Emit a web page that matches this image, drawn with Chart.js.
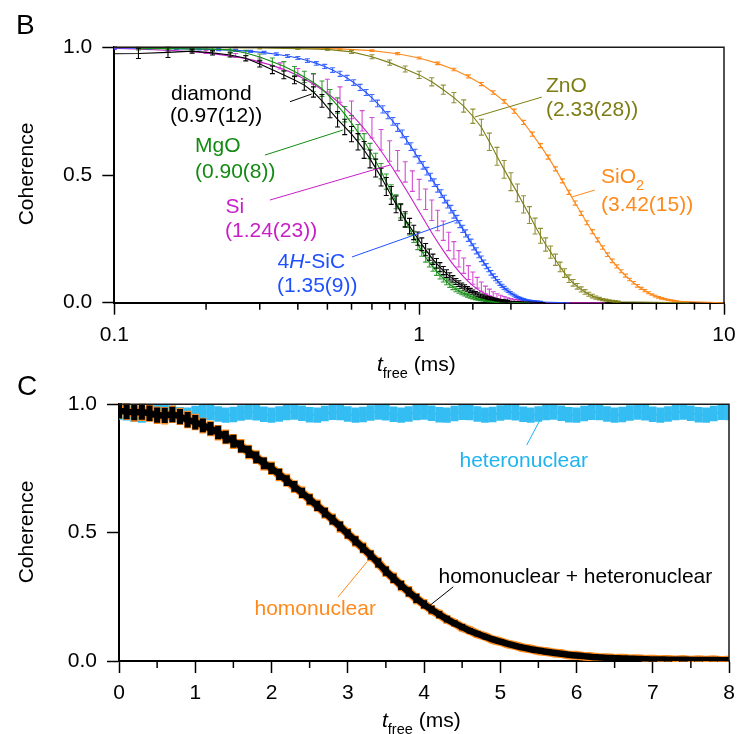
<!DOCTYPE html>
<html>
<head>
<meta charset="utf-8">
<script src="https://cdn.jsdelivr.net/npm/chart.js@4.4.1/dist/chart.umd.min.js"></script>
<style>
html,body{margin:0;padding:0;background:#fff;}
#wrap{position:relative;width:737px;height:734px;overflow:hidden;font-family:"Liberation Sans",Arial,Helvetica,sans-serif;color:#000;}
canvas{position:absolute;left:0;}
.lbl{position:absolute;white-space:nowrap;line-height:1;}
.lbl sub{font-size:14.5px;line-height:1;vertical-align:-7px;}
.ytitle{position:absolute;white-space:nowrap;line-height:1;font-size:21px;transform:translate(-50%,-50%) rotate(-90deg);}
</style>
</head>
<body>
<div id="wrap">
  <canvas id="chartB" width="737" height="360" style="top:0px"></canvas>
  <canvas id="chartC" width="737" height="374" style="top:360px"></canvas>
</div>
<script>
// ---------------- Panel B data: rows of [t_free (ms), coherence, error] ----------------
const diamond = [
 [0.10,0.975,0],[0.12,0.976,0.02],[0.15,0.980,0.02],[0.18,0.985,0.008],[0.21,0.978,0.008],[0.24,0.970,0.008],
 [0.27,0.957,0.01],[0.30,0.935,0.012],[0.33,0.912,0.015],[0.36,0.892,0.015],[0.39,0.872,0.015],
 [0.42,0.852,0.02],[0.45,0.825,0.02],[0.48,0.790,0.025],[0.51,0.752,0.028],[0.54,0.718,0.03],
 [0.57,0.688,0.03],[0.60,0.660,0.03],[0.63,0.630,0.032],[0.66,0.598,0.033],[0.69,0.563,0.035],
 [0.72,0.527,0.035],[0.75,0.492,0.035],[0.78,0.455,0.035],[0.81,0.420,0.035],[0.84,0.385,0.033],
 [0.87,0.355,0.032],[0.90,0.326,0.03],[0.93,0.300,0.03],[0.96,0.275,0.028],[0.99,0.251,0.026],
 [1.02,0.229,0.025],[1.05,0.208,0.024],[1.08,0.188,0.022],[1.11,0.170,0.02],[1.14,0.154,0.019],
 [1.17,0.139,0.018],[1.20,0.126,0.016],[1.23,0.114,0.015],[1.26,0.103,0.014],[1.29,0.093,0.013],
 [1.32,0.083,0.012],[1.35,0.075,0.011],[1.38,0.067,0.01],[1.41,0.060,0.01],[1.44,0.054,0.009],
 [1.47,0.048,0.008],[1.50,0.042,0.008],[1.53,0.037,0.007],[1.56,0.032,0.007],[1.59,0.028,0.006],
 [1.62,0.025,0.006],[1.65,0.022,0.005],[1.68,0.019,0.005],[1.71,0.017,0.005],[1.74,0.015,0.004],
 [1.77,0.013,0.004],[1.80,0.011,0.004],[1.83,0.010,0.003],[1.86,0.009,0.003],[1.89,0.008,0.003],
 [1.92,0.007,0.003],[1.95,0.006,0.003],[2.60,0.000,0]
];
const mgo = [
 [0.12,0.995,0.005],[0.15,0.995,0.005],[0.18,0.994,0.005],[0.21,0.993,0.006],[0.24,0.990,0.008],
 [0.27,0.978,0.01],[0.30,0.962,0.012],[0.33,0.943,0.015],[0.36,0.926,0.018],[0.39,0.905,0.02],
 [0.42,0.884,0.022],[0.45,0.862,0.035],[0.48,0.838,0.03],[0.51,0.805,0.03],[0.54,0.772,0.03],
 [0.57,0.738,0.03],[0.60,0.703,0.03],[0.63,0.668,0.03],[0.66,0.632,0.03],[0.69,0.594,0.03],
 [0.72,0.555,0.03],[0.75,0.515,0.03],[0.78,0.474,0.03],[0.81,0.434,0.028],[0.84,0.395,0.027],
 [0.87,0.358,0.026],[0.90,0.323,0.025],[0.93,0.289,0.024],[0.96,0.258,0.022],[0.99,0.229,0.021],
 [1.02,0.202,0.02],[1.05,0.178,0.019],[1.08,0.158,0.018],[1.11,0.140,0.017],[1.14,0.123,0.016],
 [1.17,0.108,0.015],[1.20,0.095,0.014],[1.23,0.083,0.013],[1.26,0.072,0.012],[1.29,0.062,0.011],
 [1.32,0.053,0.01],[1.35,0.046,0.009],[1.38,0.039,0.008],[1.41,0.034,0.008],[1.44,0.029,0.007],
 [1.47,0.025,0.007],[1.50,0.021,0.006],[1.53,0.018,0.006],[1.56,0.015,0.005],[1.59,0.013,0.005],
 [1.62,0.011,0.004],[1.65,0.009,0.004],[1.68,0.008,0.004],[1.71,0.007,0.003],[1.74,0.006,0.003],
 [1.77,0.005,0.003],[1.80,0.004,0.003],[2.30,0.000,0]
];
const si = [
 [0.10,0.996,0.004],[0.15,0.990,0.005],[0.20,0.982,0.006],[0.25,0.968,0.008],[0.30,0.948,0.01],
 [0.35,0.927,0.012],[0.40,0.902,0.015],[0.45,0.876,0.02],[0.50,0.850,0.025],[0.55,0.815,0.03],
 [0.60,0.755,0.035],[0.65,0.712,0.04],[0.70,0.685,0.04],[0.75,0.638,0.04],[0.80,0.594,0.04],
 [0.85,0.556,0.04],[0.90,0.512,0.04],[0.95,0.476,0.04],[1.00,0.443,0.04],[1.05,0.405,0.04],
 [1.10,0.362,0.04],[1.15,0.322,0.04],[1.20,0.282,0.038],[1.25,0.240,0.036],[1.30,0.205,0.034],
 [1.35,0.172,0.032],[1.40,0.145,0.03],[1.45,0.118,0.027],[1.50,0.096,0.024],[1.55,0.078,0.021],
 [1.60,0.063,0.018],[1.65,0.050,0.015],[1.70,0.040,0.013],[1.75,0.032,0.011],[1.80,0.025,0.01],
 [1.85,0.020,0.009],[1.90,0.016,0.008],[1.95,0.012,0.007],[2.00,0.010,0.006],[2.05,0.008,0.005],
 [2.10,0.007,0.005],[2.15,0.006,0.004],[2.20,0.005,0.004],[2.30,0.004,0.003],[2.40,0.003,0.003],
 [2.50,0.002,0.002]
];
// fitted curve for Si: [t_free, coherence]
const siFit = [
 [0.10,0.996],[0.20,0.978],[0.30,0.943],[0.40,0.890],[0.50,0.820],[0.60,0.736],[0.70,0.643],
 [0.80,0.545],[0.90,0.448],[1.00,0.357],[1.10,0.274],[1.20,0.204],[1.30,0.146],[1.40,0.101],
 [1.50,0.067],[1.60,0.043],[1.80,0.015],[2.00,0.005],[2.50,0.0005],[3.00,0.0],[4.07,0.0]
];
const sic = [
 [0.10,0.997,0.003],[0.13,0.996,0.003],[0.16,0.995,0.003],[0.19,0.993,0.003],[0.22,0.991,0.004],
 [0.25,0.988,0.004],[0.28,0.984,0.004],[0.31,0.979,0.005],[0.34,0.973,0.005],[0.37,0.966,0.006],
 [0.40,0.958,0.006],[0.43,0.948,0.007],[0.46,0.937,0.007],[0.49,0.925,0.008],[0.52,0.911,0.009],
 [0.55,0.896,0.01],[0.58,0.880,0.01],[0.61,0.862,0.011],[0.64,0.843,0.012],[0.67,0.823,0.012],
 [0.70,0.802,0.013],[0.73,0.780,0.013],[0.76,0.757,0.014],[0.79,0.734,0.014],[0.82,0.710,0.015],
 [0.85,0.686,0.015],[0.88,0.661,0.015],[0.91,0.636,0.015],[0.94,0.611,0.015],[0.97,0.586,0.015],
 [1.00,0.561,0.015],[1.03,0.538,0.015],[1.06,0.515,0.015],[1.09,0.492,0.015],[1.12,0.470,0.015],
 [1.15,0.448,0.015],[1.18,0.427,0.015],[1.21,0.406,0.015],[1.24,0.386,0.015],[1.27,0.366,0.015],
 [1.30,0.346,0.015],[1.33,0.327,0.015],[1.36,0.308,0.014],[1.39,0.289,0.014],[1.42,0.271,0.014],
 [1.45,0.253,0.013],[1.48,0.236,0.013],[1.51,0.219,0.012],[1.54,0.203,0.012],[1.57,0.187,0.011],
 [1.60,0.172,0.011],[1.63,0.157,0.01],[1.66,0.143,0.01],[1.69,0.130,0.009],[1.72,0.117,0.009],
 [1.75,0.105,0.008],[1.78,0.094,0.008],[1.81,0.084,0.007],[1.84,0.075,0.007],[1.87,0.066,0.006],
 [1.90,0.058,0.006],[1.93,0.051,0.005],[1.96,0.045,0.005],[1.99,0.039,0.005],[2.02,0.034,0.004],
 [2.05,0.029,0.004],[2.08,0.025,0.004],[2.11,0.021,0.003],[2.14,0.018,0.003],[2.17,0.015,0.003],
 [2.20,0.013,0.003],[2.23,0.011,0.002],[2.26,0.009,0.002],[2.29,0.008,0.002],[2.32,0.007,0.002],
 [2.35,0.006,0.002],[2.38,0.005,0.002],[2.41,0.004,0.002],[2.44,0.004,0.002],[2.47,0.003,0.002],
 [2.50,0.003,0.002],[3.10,0.000,0]
];
const zno = [
 [0.1,0.999,0.002],[0.2,0.998,0.002],[0.3,0.997,0.003],[0.4,0.995,0.003],[0.5,0.992,0.004],
 [0.6,0.982,0.006],[0.7,0.963,0.008],[0.8,0.940,0.01],[0.9,0.915,0.012],[1.0,0.892,0.014],
 [1.1,0.865,0.016],[1.2,0.834,0.018],[1.3,0.803,0.02],[1.4,0.770,0.024],[1.5,0.730,0.028],
 [1.6,0.687,0.031],[1.7,0.630,0.034],[1.8,0.573,0.035],[1.9,0.522,0.035],[2.0,0.474,0.035],
 [2.1,0.430,0.035],[2.2,0.385,0.034],[2.3,0.343,0.033],[2.4,0.300,0.031],[2.5,0.262,0.029],
 [2.6,0.228,0.026],[2.7,0.198,0.024],[2.8,0.168,0.022],[2.9,0.140,0.019],[3.0,0.116,0.017],
 [3.1,0.094,0.015],[3.2,0.078,0.013],[3.3,0.064,0.011],[3.4,0.052,0.01],[3.5,0.042,0.009],
 [3.6,0.033,0.008],[3.7,0.026,0.007],[3.8,0.020,0.006],[3.9,0.016,0.005],[4.0,0.012,0.004],
 [4.1,0.010,0.004],[4.2,0.008,0.003],[4.3,0.006,0.003],[4.4,0.005,0.003],[4.5,0.004,0.002],
 [7.7,0.000,0]
];
const sio2 = [
 [0.10,1.000,0.002],[0.25,0.999,0.002],[0.40,0.998,0.002],[0.55,0.994,0.003],[0.70,0.987,0.003],
 [0.85,0.975,0.004],[1.00,0.958,0.004],[1.15,0.937,0.005],[1.30,0.913,0.005],[1.45,0.886,0.006],
 [1.60,0.856,0.006],[1.75,0.823,0.007],[1.90,0.788,0.007],[2.05,0.750,0.008],[2.20,0.706,0.008],
 [2.35,0.660,0.008],[2.50,0.615,0.008],[2.65,0.570,0.008],[2.80,0.524,0.008],[2.95,0.477,0.008],
 [3.10,0.432,0.008],[3.25,0.390,0.008],[3.40,0.350,0.008],[3.55,0.313,0.008],[3.70,0.278,0.008],
 [3.85,0.246,0.008],[4.00,0.216,0.007],[4.15,0.188,0.007],[4.30,0.164,0.007],[4.45,0.142,0.006],
 [4.60,0.123,0.006],[4.75,0.106,0.006],[4.90,0.091,0.005],[5.05,0.078,0.005],[5.20,0.066,0.005],
 [5.35,0.056,0.004],[5.50,0.047,0.004],[5.65,0.039,0.004],[5.80,0.032,0.003],[5.95,0.026,0.003],
 [6.10,0.021,0.003],[6.25,0.017,0.003],[6.40,0.014,0.002],[6.55,0.011,0.002],[6.70,0.009,0.002],
 [6.85,0.007,0.002],[7.00,0.005,0.002],[10.0,0.000,0]
];
const yTicksB = [0, 0.5, 1.0];

// ---------------- Panel C data ----------------
const tC = [
 0.0,0.1,0.2,0.3,0.4,0.5,0.6,0.7,0.8,0.9,
 1.0,1.1,1.2,1.3,1.4,1.5,1.6,1.7,1.8,1.9,
 2.0,2.1,2.2,2.3,2.4,2.5,2.6,2.7,2.8,2.9,
 3.0,3.1,3.2,3.3,3.4,3.5,3.6,3.7,3.8,3.9,
 4.0,4.1,4.2,4.3,4.4,4.5,4.6,4.7,4.8,4.9,
 5.0,5.1,5.2,5.3,5.4,5.5,5.6,5.7,5.8,5.9,
 6.0,6.1,6.2,6.3,6.4,6.5,6.6,6.7,6.8,6.9,
 7.0,7.1,7.2,7.3,7.4,7.5,7.6,7.7,7.8,7.9,
 8.0
];
const heteroV = [
 0.970,0.967,0.961,0.958,0.962,0.968,0.970,0.965,0.959,0.958,
 0.964,0.969,0.968,0.962,0.958,0.960,0.966,0.970,0.967,0.961,
 0.958,0.962,0.968,0.970,0.965,0.959,0.958,0.964,0.969,0.968,
 0.962,0.958,0.960,0.966,0.970,0.967,0.961,0.958,0.962,0.968,
 0.970,0.965,0.959,0.958,0.964,0.969,0.968,0.962,0.958,0.960,
 0.966,0.970,0.967,0.961,0.958,0.962,0.968,0.970,0.965,0.959,
 0.958,0.964,0.969,0.968,0.962,0.958,0.960,0.966,0.970,0.967,
 0.961,0.958,0.962,0.968,0.970,0.965,0.959,0.958,0.964,0.969,
 0.968
];
const heteroErr = 0.03;
const homoV = [
 0.978,0.973,0.966,0.969,0.966,0.957,0.955,0.961,0.953,0.941,
 0.931,0.917,0.906,0.889,0.873,0.855,0.837,0.814,0.794,0.769,
 0.751,0.726,0.704,0.679,0.656,0.629,0.605,0.577,0.552,0.523,
 0.496,0.467,0.441,0.411,0.383,0.349,0.323,0.294,0.270,0.243,
 0.222,0.199,0.182,0.162,0.148,0.131,0.119,0.105,0.096,0.083,
 0.076,0.066,0.060,0.051,0.047,0.040,0.037,0.031,0.029,0.023,
 0.022,0.018,0.017,0.013,0.013,0.010,0.011,0.008,0.009,0.006,
 0.007,0.005,0.006,0.004,0.006,0.003,0.005,0.003,0.005,0.002,
 0.004
];
const homoE = [
 0.034,0.034,0.034,0.034,0.034,0.034,0.034,0.034,0.034,0.034,
 0.032,0.031,0.030,0.030,0.029,0.029,0.028,0.028,0.027,0.027,
 0.026,0.026,0.025,0.025,0.024,0.024,0.024,0.023,0.023,0.023,
 0.022,0.022,0.022,0.022,0.022,0.022,0.022,0.022,0.022,0.022,
 0.020,0.019,0.018,0.017,0.016,0.016,0.015,0.015,0.014,0.014,
 0.013,0.013,0.012,0.012,0.012,0.011,0.011,0.011,0.010,0.010,
 0.010,0.009,0.009,0.009,0.009,0.009,0.008,0.008,0.008,0.008,
 0.008,0.008,0.008,0.008,0.008,0.008,0.008,0.008,0.008,0.008,
 0.008
];
const bothV = [
 0.975,0.972,0.968,0.970,0.965,0.958,0.957,0.960,0.952,0.940,
 0.930,0.918,0.905,0.890,0.872,0.856,0.836,0.815,0.793,0.770,
 0.750,0.727,0.703,0.680,0.655,0.630,0.604,0.578,0.551,0.524,
 0.495,0.468,0.440,0.412,0.382,0.350,0.322,0.295,0.269,0.244,
 0.221,0.200,0.181,0.163,0.147,0.132,0.118,0.106,0.095,0.084,
 0.075,0.067,0.059,0.052,0.046,0.041,0.036,0.032,0.028,0.024,
 0.021,0.019,0.016,0.014,0.012,0.011,0.010,0.009,0.008,0.007,
 0.006,0.006,0.005,0.005,0.005,0.004,0.004,0.004,0.004,0.003,
 0.003
];
const bothE = [
 0.030,0.030,0.030,0.030,0.030,0.030,0.030,0.030,0.030,0.030,
 0.028,0.027,0.026,0.026,0.025,0.025,0.024,0.024,0.023,0.023,
 0.022,0.022,0.021,0.021,0.020,0.020,0.020,0.019,0.019,0.019,
 0.018,0.018,0.018,0.018,0.018,0.018,0.018,0.018,0.018,0.018,
 0.016,0.015,0.014,0.013,0.012,0.012,0.011,0.011,0.010,0.010,
 0.009,0.009,0.008,0.008,0.008,0.007,0.007,0.007,0.006,0.006,
 0.006,0.005,0.005,0.005,0.005,0.005,0.004,0.004,0.004,0.004,
 0.004,0.004,0.004,0.004,0.004,0.004,0.004,0.004,0.004,0.004,
 0.004
];
const xTicksC = [0,1,2,3,4,5,6,7,8];

// ---------------- styling ----------------
const COL = {black:'#000000', green:'#138a13', magenta:'#c81ec8', blue:'#1f50ff',
             olive:'#7d7d14', orange:'#ff8a1c', sky:'#1fb4ef'};
Chart.defaults.font.family = "'Liberation Sans', Arial, Helvetica, sans-serif";
Chart.defaults.font.size = 21;
Chart.defaults.color = '#000';

const pts = rows => rows.map(r => ({x:r[0], y:r[1]}));
const errs = rows => rows.map(r => r[2]);
const isMajorLog = v => Math.abs(Math.log10(v) - Math.round(Math.log10(v))) < 1e-6;

const errBarPlugin = {
  id: 'errbars',
  afterDatasetDraw(chart, args) {
    const ds = chart.data.datasets[args.index];
    if (!ds.errors) return;
    const meta = args.meta, ys = chart.scales.y, a = chart.chartArea, ctx = chart.ctx;
    ctx.save();
    ctx.beginPath();
    ctx.rect(a.left, a.top - 1, a.right - a.left, a.bottom - a.top + 2);
    ctx.clip();
    ctx.strokeStyle = ds.errColor;
    ctx.lineWidth = ds.errWidth;
    ctx.lineCap = 'butt';
    meta.data.forEach((el, i) => {
      const e = ds.errors[i];
      if (!e) return;
      const v = ds.data[i].y;
      const x = el.x;
      const y1 = ys.getPixelForValue(v + e), y2 = ys.getPixelForValue(v - e);
      ctx.beginPath();
      ctx.moveTo(x, y1); ctx.lineTo(x, y2);
      if (ds.capWidth) {
        const h = ds.capWidth / 2;
        ctx.moveTo(x - h, y1); ctx.lineTo(x + h, y1);
        ctx.moveTo(x - h, y2); ctx.lineTo(x + h, y2);
      }
      ctx.stroke();
    });
    ctx.restore();
  }
};

function decorPlugin(id, minorFn, leaders) {
  return {
    id,
    afterDraw(chart) {
      const ctx = chart.ctx, a = chart.chartArea, xs = chart.scales.x, ys = chart.scales.y;
      ctx.save();
      ctx.strokeStyle = '#1a1a1a'; ctx.lineWidth = 1.5;
      ctx.beginPath();
      ctx.moveTo(a.left, a.top); ctx.lineTo(a.right, a.top); ctx.lineTo(a.right, a.bottom + 1);
      ctx.stroke();
      ctx.strokeStyle = '#000'; ctx.lineWidth = 1.5;
      minorFn(xs).forEach(v => {
        const p = xs.getPixelForValue(v);
        ctx.beginPath(); ctx.moveTo(p, a.bottom); ctx.lineTo(p, a.bottom + 7); ctx.stroke();
      });
      ctx.lineWidth = 1;
      leaders.forEach(L => {
        ctx.strokeStyle = L.color;
        ctx.beginPath();
        ctx.moveTo(xs.getPixelForValue(L.from[0]), ys.getPixelForValue(L.from[1]));
        ctx.lineTo(xs.getPixelForValue(L.to[0]), ys.getPixelForValue(L.to[1]));
        ctx.stroke();
      });
      ctx.restore();
    }
  };
}

// keep the plot area fixed: no extra label overflow padding
function noPad(s) { s.paddingLeft = 0; s.paddingRight = 0; s.paddingTop = 0; s.paddingBottom = 0; }

function series(label, rows, color, order, opt) {
  return Object.assign({
    label, data: pts(rows), errors: errs(rows),
    borderColor: color, backgroundColor: color, borderWidth: 1.1,
    errColor: color, errWidth: 1.1, capWidth: 5,
    pointRadius: 0, showLine: true, tension: 0, order,
    clip: {left: 0, top: 2, right: 2, bottom: 3}
  }, opt || {});
}

const leadersB = [
  {from:[0.377,0.787], to:[0.444,0.817], color:COL.black},
  {from:[0.312,0.578], to:[0.562,0.676], color:COL.green},
  {from:[0.324,0.402], to:[0.802,0.539], color:COL.magenta},
  {from:[0.602,0.179], to:[1.329,0.324], color:COL.blue},
  {from:[2.525,0.805], to:[1.522,0.727], color:COL.olive},
  {from:[3.768,0.441], to:[3.168,0.414], color:COL.orange}
];

new Chart(document.getElementById('chartB'), {
  type: 'line',
  data: {
    datasets: [
      series('diamond', diamond, COL.black, 1),
      series('MgO', mgo, COL.green, 2, {errColor:'rgba(19,138,19,0.85)'}),
      series('4H-SiC', sic, COL.blue, 3, {errColor:'rgba(31,80,255,0.85)'}),
      series('Si', si, COL.magenta, 4, {showLine:false, errColor:'rgba(200,30,200,0.8)'}),
      {label:'Si fit', data: pts(siFit), borderColor: COL.magenta, borderWidth: 1.1, pointRadius: 0,
       cubicInterpolationMode: 'monotone', order: 4, clip: {left:0, top:2, right:2, bottom:3}},
      series('ZnO', zno, COL.olive, 5, {errColor:'rgba(125,125,20,0.85)'}),
      series('SiO2', sio2, COL.orange, 6)
    ]
  },
  options: {
    responsive: false, animation: false, devicePixelRatio: 1, events: [],
    layout: {padding: {left: 0, top: 47.3, right: 13, bottom: 0}},
    plugins: {legend: {display: false}, tooltip: {enabled: false}, title: {display: false}},
    scales: {
      x: {
        type: 'logarithmic', min: 0.1, max: 10,
        afterFit(s) { s.height = 57.3; noPad(s); },
        border: {display: true, color: '#000', width: 2},
        grid: {display: true, drawOnChartArea: false, drawTicks: true, tickLength: 12, tickWidth: 1.5,
               tickColor: c => (c.tick && isMajorLog(c.tick.value)) ? '#000' : 'rgba(0,0,0,0)'},
        ticks: {autoSkip: false, maxRotation: 0, padding: 8, color: '#000', font: {size: 21},
                callback: v => isMajorLog(v) ? (v >= 1 ? v.toFixed(0) : v.toFixed(1)) : ''}
      },
      y: {
        type: 'linear', min: 0, max: 1,
        afterFit(s) { s.width = 114.3; noPad(s); },
        afterBuildTicks(s) { s.ticks = yTicksB.map(v => ({value: v})); },
        border: {display: true, color: '#000', width: 2},
        grid: {display: true, drawOnChartArea: false, drawTicks: true, tickLength: 12, tickWidth: 1.5, tickColor: '#000'},
        ticks: {padding: 10, color: '#000', font: {size: 21}, callback: v => Number(v).toFixed(1)}
      }
    }
  },
  plugins: [errBarPlugin, decorPlugin('decorB', xs => xs.ticks.filter(t => !isMajorLog(t.value)).map(t => t.value), leadersB)]
});

const leadersC = [
  {from:[5.347,0.841], to:[5.521,0.939], color:COL.sky},
  {from:[4.384,0.289], to:[4.056,0.2115], color:COL.black},
  {from:[2.872,0.249], to:[3.252,0.386], color:COL.orange}
];
const toPts = vals => tC.map((t, i) => ({x: t, y: vals[i]}));

new Chart(document.getElementById('chartC'), {
  type: 'line',
  data: {
    datasets: [
      {label: 'homonuclear + heteronuclear', data: toPts(bothV), errors: bothE,
       borderColor: COL.black, borderWidth: 6.5, errColor: COL.black, errWidth: 6, capWidth: 0,
       pointRadius: 0, tension: 0.2, order: 1},
      {label: 'homonuclear', data: toPts(homoV), errors: homoE,
       borderColor: COL.orange, borderWidth: 9, errColor: COL.orange, errWidth: 7, capWidth: 0,
       pointRadius: 0, tension: 0.2, order: 2},
      {label: 'heteronuclear', data: toPts(heteroV), errors: tC.map(() => heteroErr),
       borderColor: COL.sky, borderWidth: 2, errColor: '#33bdf2', errWidth: 7.8, capWidth: 0,
       pointRadius: 0, tension: 0.2, order: 3}
    ]
  },
  options: {
    responsive: false, animation: false, devicePixelRatio: 1, events: [],
    layout: {padding: {left: 0, top: 44.3, right: 8, bottom: 0}},
    plugins: {legend: {display: false}, tooltip: {enabled: false}, title: {display: false}},
    scales: {
      x: {
        type: 'linear', min: 0, max: 8,
        afterFit(s) { s.height = 73; noPad(s); },
        afterBuildTicks(s) { s.ticks = xTicksC.map(v => ({value: v})); },
        border: {display: true, color: '#000', width: 2},
        grid: {display: true, drawOnChartArea: false, drawTicks: true, tickLength: 12, tickWidth: 1.5, tickColor: '#000'},
        ticks: {autoSkip: false, maxRotation: 0, padding: 8, color: '#000', font: {size: 21}, callback: v => String(v)}
      },
      y: {
        type: 'linear', min: 0, max: 1,
        afterFit(s) { s.width = 119; noPad(s); },
        afterBuildTicks(s) { s.ticks = yTicksB.map(v => ({value: v})); },
        border: {display: true, color: '#000', width: 2},
        grid: {display: true, drawOnChartArea: false, drawTicks: true, tickLength: 12, tickWidth: 1.5, tickColor: '#000'},
        ticks: {padding: 10, color: '#000', font: {size: 21}, callback: v => Number(v).toFixed(1)}
      }
    }
  },
  plugins: [errBarPlugin, decorPlugin('decorC', xs => {
    const r = [];
    for (let i = 0; i < xs.ticks.length - 1; i++) r.push((xs.ticks[i].value + xs.ticks[i + 1].value) / 2);
    return r;
  }, leadersC)]
});

// ---------------- text labels (real HTML text) ----------------
const labels = [
  {html:'B', x:16, y:35, size:28},
  {html:'diamond', x:171, y:100, color:COL.black},
  {html:'(0.97(12))', x:170, y:122, color:COL.black},
  {html:'MgO', x:195, y:151.5, color:COL.green},
  {html:'(0.90(8))', x:195, y:178, color:COL.green},
  {html:'Si', x:225.5, y:212.5, color:COL.magenta},
  {html:'(1.24(23))', x:225, y:237, color:COL.magenta},
  {html:'4<i>H</i>-SiC', x:277.5, y:267.5, color:COL.blue},
  {html:'(1.35(9))', x:277, y:292, color:COL.blue},
  {html:'ZnO', x:546, y:91.5, color:COL.olive},
  {html:'(2.33(28))', x:546, y:116, color:COL.olive},
  {html:'SiO<sub>2</sub>', x:601, y:182.5, color:COL.orange},
  {html:'(3.42(15))', x:601, y:210.5, color:COL.orange},
  {html:'<i>t</i><sub>free</sub> (ms)', x:377, y:370.5},
  {html:'C', x:17, y:396, size:28},
  {html:'heteronuclear', x:459.5, y:466.5, color:COL.sky},
  {html:'homonuclear + heteronuclear', x:438.5, y:583, color:COL.black},
  {html:'homonuclear', x:254.5, y:615, color:COL.orange},
  {html:'<i>t</i><sub>free</sub> (ms)', x:382, y:727}
];
const wrap = document.getElementById('wrap');
labels.forEach(L => {
  const size = L.size || 21;
  const d = document.createElement('div');
  d.className = 'lbl';
  d.innerHTML = L.html;
  d.style.left = L.x + 'px';
  d.style.top = (L.y - 0.8465 * size) + 'px';
  d.style.fontSize = size + 'px';
  d.style.color = L.color || '#000';
  wrap.appendChild(d);
});
[{x:25, y:174}, {x:25, y:532}].forEach(p => {
  const d = document.createElement('div');
  d.className = 'ytitle';
  d.textContent = 'Coherence';
  d.style.left = p.x + 'px';
  d.style.top = p.y + 'px';
  wrap.appendChild(d);
});
</script>
</body>
</html>
